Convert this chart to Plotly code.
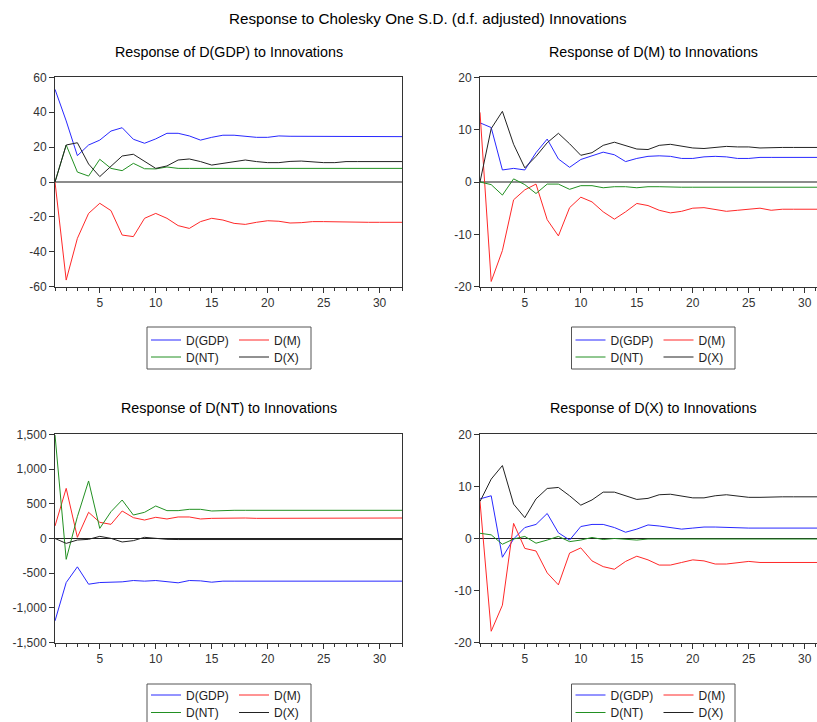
import plotly.graph_objects as go

periods = list(range(1, 33))

# Response of D(GDP)
gdp_gdp = [53.1, 35.0, 15.1, 21.2, 24.0, 29.2, 31.1, 24.5, 22.2, 24.7, 27.9, 27.9, 26.4, 24.0, 25.6, 26.8,
           26.8, 26.0, 25.6, 25.6, 26.4, 26.2, 26.2, 26.0, 26.0, 26.0, 26.0, 26.0, 26.0, 26.0, 26.0, 26.0]
gdp_m = [0.0, -56.2, -32.3, -18.0, -12.2, -16.4, -30.4, -31.3, -20.8, -18.0, -20.8, -25.0, -26.6, -22.7, -20.8, -21.8,
         -23.7, -24.3, -23.1, -22.2, -22.5, -23.5, -23.3, -22.7, -22.7, -22.9, -23.1, -23.1, -23.1, -23.1, -23.1, -23.1]
gdp_nt = [0.0, 21.2, 5.7, 3.4, 13.0, 7.8, 6.5, 10.7, 7.6, 7.5, 8.6, 7.8, 7.8, 7.8, 7.8, 7.8,
          7.8, 7.8, 7.8, 7.8, 7.8, 7.8, 7.8, 7.8, 7.8, 7.8, 7.8, 7.8, 7.8, 7.8, 7.8, 7.8]
gdp_x = [0.0, 21.2, 22.5, 10.3, 3.1, 8.8, 14.9, 15.9, 11.7, 7.8, 9.2, 12.6, 13.2, 11.7, 9.7, 10.7,
         12.0, 12.6, 11.7, 11.1, 11.1, 11.8, 12.0, 11.5, 11.1, 11.1, 11.7, 11.7, 11.7, 11.7, 11.7, 11.7]

# Response of D(M)
m_gdp = [11.3, 10.4, 2.3, 2.6, 2.3, 5.6, 8.2, 4.4, 2.8, 4.3, 5.0, 5.7, 5.2, 3.9, 4.5, 4.9,
         5.0, 4.9, 4.5, 4.5, 4.8, 4.9, 4.8, 4.5, 4.5, 4.7, 4.7, 4.7, 4.7, 4.7, 4.7, 4.7]
m_m = [13.3, -19.0, -13.1, -3.4, -1.5, -0.4, -7.2, -10.3, -4.9, -2.9, -3.8, -5.7, -7.1, -5.7, -4.1, -4.5,
       -5.4, -5.9, -5.6, -5.0, -4.9, -5.2, -5.6, -5.4, -5.2, -5.0, -5.4, -5.2, -5.2, -5.2, -5.2, -5.2]
m_nt = [0.0, -0.5, -2.5, 0.6, -0.5, -2.2, -0.4, -0.4, -1.4, -0.7, -0.7, -1.1, -0.9, -0.9, -1.1, -0.9,
        -0.9, -1.0, -1.0, -1.0, -1.0, -1.0, -1.0, -1.0, -1.0, -1.0, -1.0, -1.0, -1.0, -1.0, -1.0, -1.0]
m_x = [0.0, 10.2, 13.5, 7.2, 2.7, 4.9, 7.5, 9.3, 7.3, 5.1, 5.6, 7.0, 7.6, 7.0, 6.3, 6.2,
       7.0, 7.2, 6.8, 6.5, 6.4, 6.6, 6.8, 6.7, 6.7, 6.5, 6.6, 6.6, 6.6, 6.6, 6.6, 6.6]

# Response of D(NT)
nt_gdp = [-1186, -634, -408, -658, -634, -634, -624, -605, -614, -605, -619, -638, -605, -610, -629, -614,
          -614, -614, -614, -614, -614, -614, -614, -614, -614, -614, -614, -614, -614, -614, -614, -614]
nt_m = [180, 722, 17, 377, 233, 204, 396, 300, 266, 305, 281, 310, 310, 281, 290, 295,
        295, 295, 290, 290, 295, 295, 295, 290, 290, 290, 295, 295, 295, 295, 295, 295]
nt_nt = [1490, -300, 314, 828, 146, 386, 554, 338, 377, 468, 401, 401, 420, 420, 396, 406,
         406, 406, 406, 406, 406, 406, 406, 406, 406, 406, 406, 406, 406, 406, 406, 406]
nt_x = [0, -70, -22, -12, 31, 2, -50, -31, 17, 2, -12, -15, -15, -12, -15, -15,
        -12, -15, -15, -15, -15, -12, -15, -15, -15, -15, -15, -15, -15, -15, -15, -15]

# Response of D(X)
x_gdp = [7.6, 8.2, -3.6, -0.1, 2.1, 2.7, 4.8, 1.1, -0.3, 2.3, 2.7, 2.7, 2.1, 1.2, 1.8, 2.6,
         2.4, 2.1, 1.8, 2.0, 2.2, 2.2, 2.1, 2.0, 2.0, 2.0, 2.0, 2.0, 2.0, 2.0, 2.0, 2.0]
x_m = [7.1, -17.8, -12.8, 2.9, -1.9, -2.4, -6.6, -8.9, -2.8, -1.8, -4.3, -5.4, -5.9, -4.4, -3.4, -4.1,
       -5.1, -5.1, -4.6, -4.1, -4.3, -4.9, -4.9, -4.6, -4.4, -4.6, -4.6, -4.6, -4.6, -4.6, -4.6, -4.6]
x_nt = [1.0, 0.7, -1.1, -0.1, 0.4, -0.9, -0.3, 0.4, -0.6, -0.3, 0.2, -0.2, 0.0, -0.1, -0.3, -0.1,
        -0.1, -0.1, -0.1, -0.1, -0.1, -0.1, -0.1, -0.1, -0.1, -0.1, -0.1, -0.1, -0.1, -0.1, -0.1, -0.1]
x_x = [7.1, 11.4, 14.0, 6.6, 4.0, 7.6, 9.6, 9.8, 8.2, 6.4, 7.4, 8.9, 8.9, 8.2, 7.5, 7.7,
       8.4, 8.5, 8.2, 7.8, 7.8, 8.2, 8.4, 8.2, 7.9, 7.9, 8.0, 8.0, 8.0, 8.0, 8.0, 8.0]

series_names = ["D(GDP)", "D(M)", "D(NT)", "D(X)"]
series_colors = ["#2828ff", "#ff2828", "#229022", "#222222"]

panel_titles = ["Response of D(GDP) to Innovations", "Response of D(M) to Innovations",
                "Response of D(NT) to Innovations", "Response of D(X) to Innovations"]
main_title = "Response to Cholesky One S.D. (d.f. adjusted) Innovations"

x_ticks = [5, 10, 15, 20, 25, 30]
y_ticks_gdp = [60, 40, 20, 0, -20, -40, -60]
y_ticks_gdp_text = ["60", "40", "20", "0", "-20", "-40", "-60"]
y_ticks_m = [20, 10, 0, -10, -20]
y_ticks_m_text = ["20", "10", "0", "-10", "-20"]
y_ticks_nt = [1500, 1000, 500, 0, -500, -1000, -1500]
y_ticks_nt_text = ["1,500", "1,000", "500", "0", "-500", "-1,000", "-1,500"]
y_ticks_x = [20, 10, 0, -10, -20]
y_ticks_x_text = ["20", "10", "0", "-10", "-20"]

panels_data = [
    [gdp_gdp, gdp_m, gdp_nt, gdp_x],
    [m_gdp, m_m, m_nt, m_x],
    [nt_gdp, nt_m, nt_nt, nt_x],
    [x_gdp, x_m, x_nt, x_x],
]
panel_yticks = [(y_ticks_gdp, y_ticks_gdp_text, [-60, 60]),
                (y_ticks_m, y_ticks_m_text, [-20, 20]),
                (y_ticks_nt, y_ticks_nt_text, [-1500, 1500]),
                (y_ticks_x, y_ticks_x_text, [-20, 20])]

W, H = 817, 722
FONT = "Arial, Liberation Sans, sans-serif"

def px_x(v):
    return v / W

def px_y(v):
    return 1 - v / H

# panel geometry in pixels: (left, right, top, bottom, xmax)
geo = [
    (55, 402, 77.3, 286.7, 32),
    (480, 817, 77.3, 286.7, 31.09),
    (55, 402, 434.3, 642.7, 32),
    (480, 817, 434.3, 642.7, 31.09),
]

fig = go.Figure()
layout_axes = {}
shapes = []
annotations = []
legends = {}

for i in range(4):
    l, r, t, b, xmax = geo[i]
    ax = "" if i == 0 else str(i + 1)
    left_panel = i % 2 == 0
    top_panel = i < 2
    bx0 = 147 if left_panel else 571.5
    bx1 = 311 if left_panel else 735
    by0 = 327 if top_panel else 684
    by1 = 369 if top_panel else 740
    row_y = [340, 357] if top_panel else [695, 712.5]
    for k in range(4):
        idx = 4 * i + k + 1
        leg = "legend" if idx == 1 else f"legend{idx}"
        fig.add_trace(go.Scatter(
            x=periods, y=panels_data[i][k], mode="lines", name=series_names[k],
            line=dict(color=series_colors[k], width=1),
            xaxis="x" + ax, yaxis="y" + ax,
            legend=leg, hoverinfo="skip",
        ))
        col = 0 if k in (0, 2) else 1
        row = 0 if k in (0, 1) else 1
        legends[leg] = dict(
            x=px_x(bx0 + (0 if col == 0 else 88) - 1), y=px_y(row_y[row]),
            xanchor="left", yanchor="middle", bgcolor="rgba(0,0,0,0)", borderwidth=0,
            font=dict(family=FONT, size=12, color="#222"), itemwidth=30,
            tracegroupgap=0, orientation="v",
        )
    tv, tt, yr = panel_yticks[i]
    layout_axes["xaxis" + ax] = dict(
        domain=[px_x(l), px_x(r)], range=[1, xmax], anchor="y" + ax,
        tickvals=x_ticks, ticks="outside", ticklen=5, tickcolor="#333",
        minor=dict(dtick=1, tick0=0, ticks="outside", ticklen=3, tickcolor="#333"),
        showline=True, linecolor="#333", linewidth=1, mirror=True,
        showgrid=False, zeroline=False, automargin=False,
        tickfont=dict(family=FONT, size=12, color="#333"),
    )
    layout_axes["yaxis" + ax] = dict(
        domain=[px_y(b), px_y(t)], range=yr, anchor="x" + ax,
        tickvals=tv, ticktext=tt, ticks="outside", ticklen=5, tickcolor="#333",
        showline=True, linecolor="#333", linewidth=1, mirror=True if left_panel else False,
        showgrid=False, zeroline=True, automargin=False,
        zerolinecolor="#8c8c8c" if top_panel else "#222222",
        zerolinewidth=2 if top_panel else 1,
        tickfont=dict(family=FONT, size=12, color="#333"),
    )
    # panel title
    annotations.append(dict(
        text=panel_titles[i], x=px_x((l + (r if left_panel else 827)) / 2), y=px_y(52 if top_panel else 408),
        xref="paper", yref="paper", showarrow=False, xanchor="center", yanchor="middle",
        font=dict(family=FONT, size=14.3, color="#000"),
    ))
    # legend box
    shapes.append(dict(type="rect", xref="paper", yref="paper",
                       x0=px_x(bx0), x1=px_x(bx1), y0=px_y(by1), y1=px_y(by0),
                       line=dict(color="#555", width=1), fillcolor="rgba(0,0,0,0)"))

annotations.append(dict(
    text=main_title, x=px_x(428), y=px_y(19), xref="paper", yref="paper", showarrow=False,
    xanchor="center", yanchor="middle", font=dict(family=FONT, size=15.2, color="#000"),
))

fig.update_layout(
    width=W, height=H, autosize=False,
    margin=dict(l=0, r=0, t=0, b=0, pad=0, autoexpand=False),
    paper_bgcolor="white", plot_bgcolor="white",
    showlegend=True, shapes=shapes, annotations=annotations,
    **layout_axes, **legends,
)

fig.write_html("out.html", config={"displayModeBar": False},
               post_script="document.body.style.margin='0';document.body.style.overflow='hidden';")
